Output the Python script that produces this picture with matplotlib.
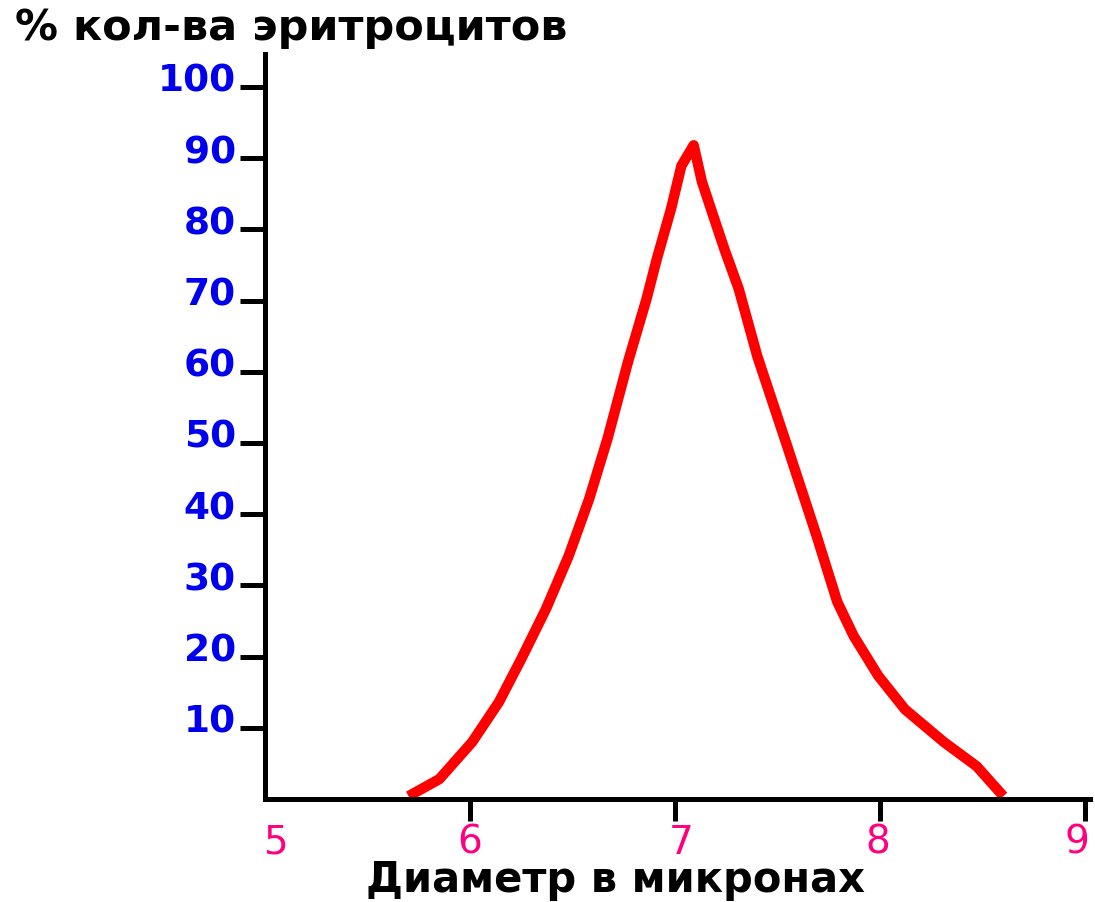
import matplotlib
matplotlib.use("Agg")
import matplotlib.pyplot as plt
from matplotlib.transforms import ScaledTranslation

# диаметр эритроцитов (мкм) и % количества
diametr = [5.70, 5.85, 6.01, 6.14, 6.25, 6.37, 6.48, 6.58, 6.67, 6.77, 6.86,
           6.91, 6.98, 7.03, 7.09, 7.13, 7.19, 7.24, 7.31, 7.40, 7.55, 7.69,
           7.79, 7.87, 7.99, 8.12, 8.31, 8.47, 8.60]
procent = [0.4, 2.8, 8.0, 13.6, 19.7, 26.7, 34.1, 42.1, 50.6, 61.4, 70.2,
           75.8, 82.9, 88.9, 91.8, 86.7, 81.5, 77.2, 71.6, 62.2, 49.2, 36.9,
           27.7, 22.9, 17.3, 12.6, 8.0, 4.6, 0.4]

x_ticks = [5, 6, 7, 8, 9]
y_ticks = [10, 20, 30, 40, 50, 60, 70, 80, 90, 100]

fig = plt.figure(figsize=(10.95, 9.03), dpi=100)
ax = fig.add_axes([0.242, 0.114, 0.753, 0.825])

ax.plot(diametr, procent, color="#ff0000", lw=7.5, solid_capstyle="butt",
        solid_joinstyle="round")

ax.set_xlim(5, 9.02)
ax.set_ylim(0, 104.6)
for s in ["top", "right"]:
    ax.spines[s].set_visible(False)
for s in ["left", "bottom"]:
    ax.spines[s].set_linewidth(3.6)
    ax.spines[s].set_color("black")

ax.set_xticks(x_ticks)
ax.set_yticks(y_ticks)
ax.tick_params(axis="x", length=16, width=3.6, pad=1, colors="black",
               labelcolor="#ff0080", labelsize=28)
ax.tick_params(axis="y", length=18, width=3.6, pad=3, colors="black",
               labelcolor="#0000ee", labelsize=27)
ax.xaxis.get_major_ticks()[0].tick1line.set_visible(False)

for lab in ax.get_yticklabels():
    lab.set_fontweight("bold")
    lab.set_transform(lab.get_transform() +
                      ScaledTranslation(0, 0.10, fig.dpi_scale_trans))
xoff = [10, 0, 6, -3, -8]
for lab, dx in zip(ax.get_xticklabels(), xoff):
    lab.set_transform(lab.get_transform() +
                      ScaledTranslation(dx / 100, 0, fig.dpi_scale_trans))

fig.text(0.014, 0.9557, "% кол-ва эритроцитов", fontsize=31, fontweight="bold",
         ha="left", va="baseline")
fig.text(0.562, 0.0125, "Диаметр в микронах", fontsize=30, fontweight="bold",
         ha="center", va="baseline")

fig.savefig("out.png", dpi=100)
